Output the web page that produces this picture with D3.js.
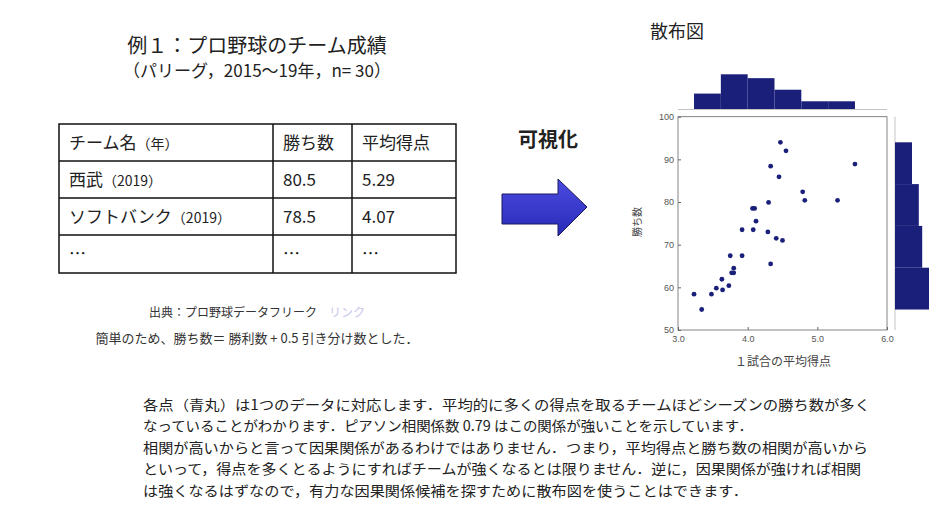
<!DOCTYPE html>
<html><head><meta charset="utf-8">
<script src="https://cdn.jsdelivr.net/npm/d3@7"></script>
<style>body{margin:0;background:#fff}svg{display:block;font-family:"Noto Sans CJK JP","Noto Sans",sans-serif}</style>
</head><body>
<script>
const runs = [3.23,3.34,3.48,3.55,3.63,3.64,3.73,3.75,3.77,3.80,3.80,3.92,3.92,4.07,4.10,4.08,4.12,4.29,4.30,4.33,4.33,4.41,4.45,4.47,4.50,4.55,4.79,4.82,5.29,5.54];
const wins = [58.4,54.8,58.4,59.8,61.9,59.4,60.4,67.4,63.4,64.5,63.4,73.5,67.4,78.5,78.5,73.5,75.5,73.0,79.9,88.4,65.5,71.5,85.9,94.0,71.0,92.0,82.4,80.4,80.4,88.9];
const xTicks = [3,4,5,6];
const yTicks = [50,60,70,80,90,100];
const tableHeader = ["チーム名（年）","勝ち数","平均得点"];
const tableRows = [["西武（2019）","80.5","5.29"],["ソフトバンク（2019）","78.5","4.07"],["…","…","…"]];
const bodyLines = [
 "各点（青丸）は1つのデータに対応します．平均的に多くの得点を取るチームほどシーズンの勝ち数が多く",
 "なっていることがわかります．ピアソン相関係数 0.79 はこの関係が強いことを示しています．",
 "相関が高いからと言って因果関係があるわけではありません．つまり，平均得点と勝ち数の相関が高いから",
 "といって，得点を多くとるようにすればチームが強くなるとは限りません．逆に，因果関係が強ければ相関",
 "は強くなるはずなので，有力な因果関係候補を探すために散布図を使うことはできます．"];

const svg = d3.select("body").append("svg").attr("width",942).attr("height",516);
const navy = "#1a1f7a";

// Title
svg.append("text").attr("x",257).attr("y",53).attr("text-anchor","middle").attr("font-size",20).attr("fill","#222").text("例１：プロ野球のチーム成績");
svg.append("text").attr("x",257).attr("y",77).attr("text-anchor","middle").attr("font-size",17).attr("fill","#222").text("（パリーグ，2015〜19年，n= 30）");

// Table
const colX=[59,273,352,456], rowY=[124,161,198,235,273];
const tg=svg.append("g");
tg.append("rect").attr("x",59).attr("y",124).attr("width",397).attr("height",149).attr("fill","none").attr("stroke","#111").attr("stroke-width",1.5);
rowY.slice(1,-1).forEach(y=>tg.append("line").attr("x1",59).attr("x2",456).attr("y1",y).attr("y2",y).attr("stroke","#111").attr("stroke-width",1.5));
colX.slice(1,-1).forEach(x=>tg.append("line").attr("x1",x).attr("x2",x).attr("y1",124).attr("y2",273).attr("stroke","#111").attr("stroke-width",1.5));
[tableHeader,...tableRows].forEach((r,i)=>r.forEach((c,j)=>{
  const t=tg.append("text").attr("x",colX[j]+10).attr("y",rowY[i]+25).attr("font-size",17).attr("fill","#222");
  if(i==0&&j==0){t.text("チーム名");t.append("tspan").attr("font-size",14).text("（年）");}
  else if(j==0&&i>0&&c.includes("（")){const k=c.indexOf("（");t.text(c.slice(0,k));t.append("tspan").attr("font-size",14).text(c.slice(k));}
  else t.text(c);
}));
const src=svg.append("text").attr("x",257).attr("y",317).attr("text-anchor","middle").attr("font-size",12).attr("fill","#333").text("出典：プロ野球データフリーク　");
src.append("tspan").attr("fill","#c8c8ee").text("リンク");
svg.append("text").attr("x",257).attr("y",343).attr("text-anchor","middle").attr("font-size",13).attr("fill","#333").text("簡単のため、勝ち数＝ 勝利数 + 0.5 引き分け数とした．");

// visualize + arrow
svg.append("text").attr("x",548).attr("y",147).attr("text-anchor","middle").attr("font-size",20).attr("font-weight","bold").attr("fill","#222").text("可視化");
const grad=svg.append("defs").append("linearGradient").attr("id","ag").attr("x1",0).attr("x2",0).attr("y1",0).attr("y2",1);
grad.append("stop").attr("offset","0").attr("stop-color","#4a4ae0");
grad.append("stop").attr("offset","1").attr("stop-color","#2a2ab8");
svg.append("path").attr("d","M502,194 L558,194 L558,179 L587,207 L558,236 L558,224 L502,224 Z").attr("fill","url(#ag)").attr("stroke","#1a1a60").attr("stroke-width",1);

svg.append("text").attr("x",677).attr("y",38).attr("text-anchor","middle").attr("font-size",18).attr("fill","#222").text("散布図");

// scatter
const x=d3.scaleLinear().domain([3,6]).range([678,887]);
const y=d3.scaleLinear().domain([50,100]).range([330,116.7]);
const sg=svg.append("g");
sg.append("rect").attr("x",678).attr("y",116.7).attr("width",209).attr("height",213.3).attr("fill","none").attr("stroke","#666").attr("stroke-width",0.8);
const xa=sg.append("g").attr("transform","translate(0,330)").call(d3.axisBottom(x).tickValues(xTicks).tickSize(-3).tickPadding(6));
const ya=sg.append("g").attr("transform","translate(678,0)").call(d3.axisLeft(y).tickValues(yTicks).tickSize(-3).tickPadding(4));
[xa,ya].forEach(a=>{a.select(".domain").remove();a.selectAll("text").attr("font-size",9).attr("fill","#555").attr("font-family","Liberation Sans, sans-serif");a.selectAll("line").attr("stroke","#666");});
sg.selectAll("circle").data(runs).join("circle").attr("cx",d=>x(d)).attr("cy",(d,i)=>y(wins[i])).attr("r",2.4).attr("fill",navy);
svg.append("text").attr("x",783).attr("y",366).attr("text-anchor","middle").attr("font-size",12).attr("fill","#444").text("１試合の平均得点");
svg.append("text").attr("transform","translate(641,222) rotate(-90)").attr("text-anchor","middle").attr("font-size",10).attr("fill","#444").text("勝ち数");

// top histogram
const xe=d3.extent(runs), xs=(xe[1]-xe[0])/6;
const xb=d3.bin().domain(xe).thresholds(d3.range(1,6).map(i=>xe[0]+i*xs))(runs);
const hy=d3.scaleLinear().domain([0,9]).range([109,74.3]);
svg.append("line").attr("x1",678).attr("x2",887).attr("y1",109.5).attr("y2",109.5).attr("stroke","#aaa").attr("stroke-width",0.7);
svg.selectAll("rect.hx").data(xb).join("rect").attr("class","hx").attr("x",d=>x(d.x0)).attr("width",d=>x(d.x1)-x(d.x0)).attr("y",d=>hy(d.length)).attr("height",d=>109-hy(d.length)).attr("fill",navy);
// right histogram
const ye=d3.extent(wins), ys=(ye[1]-ye[0])/4;
const yb=d3.bin().domain(ye).thresholds(d3.range(1,4).map(i=>ye[0]+i*ys))(wins);
const hx=d3.scaleLinear().domain([0,10]).range([895,929]);
svg.append("line").attr("x1",895).attr("x2",895).attr("y1",116.7).attr("y2",330).attr("stroke","#aaa").attr("stroke-width",0.7);
svg.selectAll("rect.hy").data(yb).join("rect").attr("class","hy").attr("x",895).attr("width",d=>hx(d.length)-895).attr("y",d=>y(d.x1)).attr("height",d=>y(d.x0)-y(d.x1)).attr("fill",navy);

// body text
const by=[410,431,453,474,496];
bodyLines.forEach((l,i)=>{
  const t=svg.append("text").attr("x",143).attr("y",by[i]).attr("font-size",14).attr("fill","#222").text(l);
  const w=t.node().getComputedTextLength();
  const target=[727,610,725,718,605][i];
  t.attr("textLength",target).attr("lengthAdjust","spacingAndGlyphs");
});
</script>
</body></html>
